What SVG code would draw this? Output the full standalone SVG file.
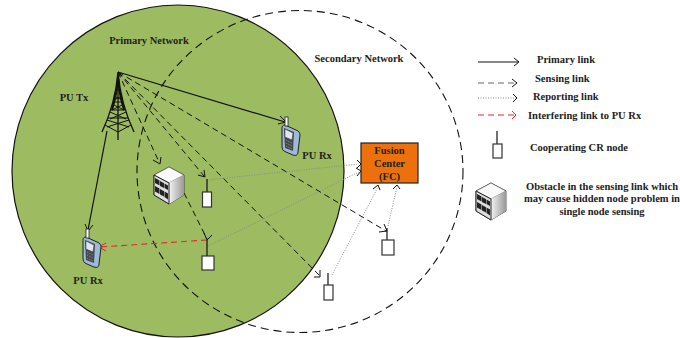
<svg xmlns="http://www.w3.org/2000/svg" width="680" height="338" viewBox="0 0 680 338">
<style>
text{font-family:"Liberation Serif","Times New Roman",serif;font-weight:bold;font-size:10.5px;fill:#222}
.m{text-anchor:middle}
.p{stroke:#111;stroke-width:1.2;fill:none}
.s{stroke:#111;stroke-width:1;stroke-dasharray:6 4;fill:none}
.r{stroke:#8a8a8a;stroke-width:1;stroke-dasharray:1 1.5;fill:none}
.i{stroke:#e8262a;stroke-width:1.1;stroke-dasharray:6 4;fill:none}
.ah{stroke:#111;stroke-width:1;fill:none}
.ar{stroke:#e8262a;stroke-width:1;fill:none}
.n{fill:#fff;stroke:#333;stroke-width:1.2}
.a{stroke:#111;stroke-width:1.2}
</style>
<defs>
<linearGradient id="side" x1="0" x2="1" y1="0" y2="0"><stop offset="0" stop-color="#f2f2f2"/><stop offset="1" stop-color="#999"/></linearGradient>
<g id="rack">
<path d="M-15-10 0-18 15-10V10L0 19-15 10Z" fill="#eee" stroke="#333" stroke-width=".8"/>
<path d="M-15-10 0-18 15-10 0-2Z" fill="#fafafa" stroke="#444" stroke-width=".6"/>
<path d="M0-2 15-10V10L0 19Z" fill="url(#side)"/>
<path d="M-15-10 0-2V19L-15 10Z" fill="#ddd" stroke="#222" stroke-width="1"/>
<path d="M-14-7-9.5-4.5V.5L-14-2ZM-9-4-5-1.800V3L-9 1ZM-4.500-1.500-1 .500V5L-4.500 3ZM-14 1-9.500 3.500V9L-14 6.500ZM-9 4-5 6.200V11.500L-9 9.500ZM-4.500 6.500-1 8.500V14.500L-4.500 12Z" fill="#222"/>
</g>
<g id="phone">
<path d="M-6-12 5-7C8-6 9-4 9-2L7 15C7 18 5 19 2 18L-5 15C-8 14-9 12-9 9L-9-9C-9-11-8-12-6-12Z" fill="#9dbbd8" stroke="#222" stroke-width="1"/>
<path d="M-7-9 3-5 2 14-6 11Z" fill="#44484e"/>
<path d="M-6-8 2-4 1 3-6 0Z" fill="#dfe8ee" stroke="#333" stroke-width=".5"/>
<path d="M-5 3 1 6M-5 6 1 9M-5 9 1 12" stroke="#aaa" stroke-width=".8" stroke-dasharray="1 1"/>
<rect x="-6" y="-20" width="3" height="9" fill="#fff" stroke="#222" stroke-width=".8"/>
</g>
</defs>

<circle id="primary-area" cx="178" cy="171" r="166" fill="#9dbb61" stroke="#111" stroke-width="1.2"/>
<ellipse id="secondary-area" cx="300" cy="171.500" rx="163" ry="161" fill="none" stroke="#111" stroke-width="1.1" stroke-dasharray="8 5"/>

<g id="connectors">
<path class="p" d="M118 72 285 122"/><path class="ah" d="M280 116 286 122 278 124"/>
<path class="p" d="M107 131 88 230"/><path class="ah" d="M85 224 88 231 93 225"/>
<path class="s" d="M118 72 159 162"/><path class="ah" d="M153 160 160 164 161 157"/>
<path class="s" d="M118 72 204 176"/><path class="ah" d="M198 175 205 177 204 170"/>
<path class="s" d="M118 72 386 231"/><path class="ah" d="M379 232 387 231 384 224"/>
<path class="s" d="M118 72 320 276"/><path class="ah" d="M314 277 320 277 320 270"/>
<path class="s" d="M184 193 207 239"/><path class="ah" d="M204 233 207 240 212 235"/>
<path class="r" d="M207 180 359 164"/><path class="ah" d="M357 160 361 164 357 168"/>
<path class="r" d="M208 246 359 172"/><path class="ah" d="M356 168 361 171 357 176"/>
<path class="r" d="M332 275 378 187"/><path class="ah" d="M373 189 378 185 380 190"/>
<path class="r" d="M388 226 397 187"/><path class="ah" d="M393 189 397 185 400 189"/>
<path class="i" d="M207 240 100 247"/><path class="ar" d="M106 243 99 247 106 251"/>
</g>

<g id="tower" fill="none" stroke="#111">
<path d="M118 72C116 95 110 115 102 132M118 72C120 95 126 115 134 132M118 72V140" stroke-width="1.300"/>
<path d="M115 90H121M114 96 122 100M122 96 114 100M113 102H123M112 104 124 110M124 104 112 110M111 110H125M110 112 126 119M126 112 110 119M108 118H128M107 120 129 127M129 120 107 127M105 125 118 132 131 125" stroke-width="1"/>
<path d="M118 78C117 92 115 100 112 110M118 78C119 92 121 100 124 110" stroke-width="2"/>
</g>
<use id="obstacle" href="#rack" x="169" y="185"/>
<use id="pu-rx-1" href="#phone" x="291" y="137"/>
<use id="pu-rx-2" href="#phone" x="92" y="249"/>
<g id="cr-1"><path d="M207 179V192" class="a"/><rect x="202.500" y="192" width="9" height="15" class="n"/></g>
<g id="cr-2"><path d="M207 240V256" class="a"/><rect x="202" y="256" width="12" height="14" class="n"/></g>
<g id="cr-3"><path d="M387 228V240" class="a"/><rect x="382" y="240" width="12" height="15" class="n"/></g>
<g id="cr-4"><path d="M328 273V285" class="a"/><rect x="324" y="285" width="9" height="15" class="n"/></g>

<g id="fusion-center">
<rect x="361" y="143" width="57" height="40" fill="#ec710c" stroke="#222" stroke-width="1.200"/>
<text x="389.500" y="154" class="m">Fusion</text>
<text x="389.500" y="167" class="m">Center</text>
<text x="389.500" y="180" class="m">(FC)</text>
</g>

<g id="labels">
<text x="149" y="44" class="m">Primary Network</text>
<text x="359" y="62" class="m">Secondary Network</text>
<text x="74" y="101" class="m">PU Tx</text>
<text x="317" y="159" class="m">PU Rx</text>
<text x="88" y="284" class="m">PU Rx</text>
</g>

<g id="legend">
<path class="p" d="M478 62H518"/><path class="ah" d="M514 58 519 62 514 66"/>
<text x="537" y="63">Primary link</text>
<path stroke="#666" stroke-width="1" stroke-dasharray="6 4" d="M478 83H516"/><path class="ah" d="M512 79 517 83 512 87"/>
<text x="535" y="82">Sensing link</text>
<path class="r" d="M478 98H516"/><path class="ah" d="M513 94 517 98 513 102"/>
<text x="533" y="100">Reporting link</text>
<path class="i" d="M478 115H515"/><path class="ar" d="M512 111 516 115 512 119"/>
<text x="528" y="119">Interfering link to PU Rx</text>
<g id="legend-cr"><path d="M497 131V144" class="a"/><rect x="493" y="144" width="9" height="14" class="n"/></g>
<text x="530" y="151">Cooperating CR node</text>
<use href="#rack" x="491" y="201"/>
<text x="602" y="190" class="m">Obstacle in the sensing link which</text>
<text x="602" y="202" class="m">may cause hidden node problem in</text>
<text x="602" y="215" class="m">single node sensing</text>
</g>
</svg>
